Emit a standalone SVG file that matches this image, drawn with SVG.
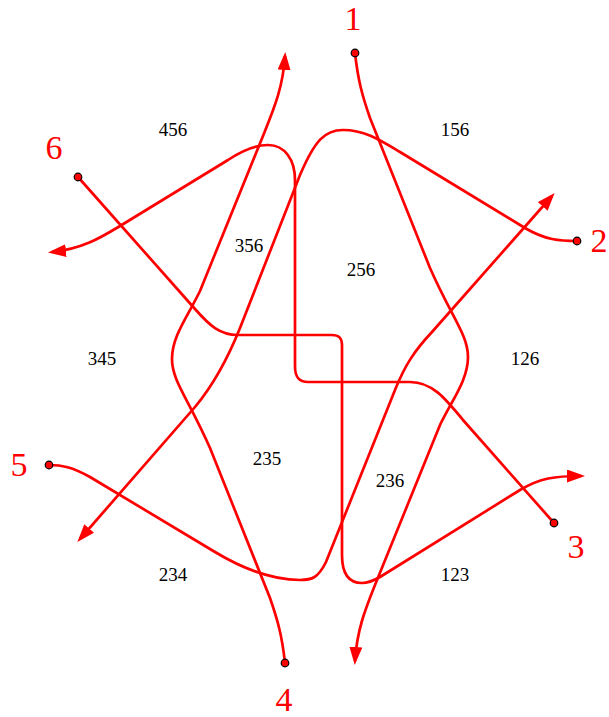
<svg xmlns="http://www.w3.org/2000/svg" width="609" height="717" viewBox="0 0 609 717">
<style>
.s{fill:none;stroke:#ff0000;stroke-width:2.7;stroke-linejoin:round;marker-end:url(#ah)}
.dot{fill:#ff0000;stroke:#000;stroke-width:1.2}
.lab{font-family:"Liberation Serif","DejaVu Serif",serif;font-size:19px;fill:#000;text-anchor:middle}
.num{font-family:"Liberation Serif","DejaVu Serif",serif;font-size:34px;fill:#ff0000;text-anchor:middle}
</style>
<defs>
<marker id="ah" markerUnits="userSpaceOnUse" markerWidth="20" markerHeight="14" refX="14" refY="6.5" orient="auto">
<path d="M0,0 L18,6.5 L0,13 Z" fill="#ff0000"/>
</marker>
</defs>
<g id="connectors">
<path id="strand1" class="s" d="M355,53 C358,80 362,95 370,118 L430,268 C452,318 468,335 468,357 C468,380 452,400 440,425 L375,585 C365,610 357,630 355,661"/>
<path id="strand4" class="s" d="M285,663 C282,636 278,621 270,598 L210,448 C188,398 172,381 172,359 C172,336 188,316 200,291 L265,131 C275,106 283,86 285,56"/>
<path id="strand2" class="s" d="M577,241 C560,241 545,240 525,228 L400,152 C380,140 365,130 343,130 C325,130 315,140 300,175 L240,328 C228,358 215,383 195,407 L80,539"/>
<path id="strand3" class="s" d="M554,523 L463,420 C445,398 432,382 410,382 L308,382 C298,382 295,376 295,366 L295,180 C295,160 285,145 268,145 C255,145 240,152 228,160 L120,226 C100,238 82,249 52,252"/>
<path id="strand5" class="s" d="M49,465 C62,465 72,467 90,477 L215,552 C240,567 270,580 300,580 C312,580 318,578 326,562 L395,390 C405,365 415,350 432,332 L552,196"/>
<path id="strand6" class="s" d="M78,177 L195,309 C210,326 220,335 238,335 L332,335 C339,335 342,338 342,345 L342,555 C342,575 350,583 362,583 C368,583 373,581 380,577 L520,490 C540,478 555,476 581,476"/>
</g>
<g id="node1"><circle class="dot" cx="355" cy="53" r="3.8"/><text class="num" x="353" y="30">1</text></g>
<g id="node2"><circle class="dot" cx="577" cy="241" r="3.8"/><text class="num" x="599" y="252">2</text></g>
<g id="node3"><circle class="dot" cx="554" cy="523" r="3.8"/><text class="num" x="576" y="558">3</text></g>
<g id="node4"><circle class="dot" cx="285" cy="663" r="3.8"/><text class="num" x="284" y="711">4</text></g>
<g id="node5"><circle class="dot" cx="49" cy="465" r="3.8"/><text class="num" x="19" y="476">5</text></g>
<g id="node6"><circle class="dot" cx="78" cy="177" r="3.8"/><text class="num" x="54" y="159">6</text></g>
<g id="regions">
<text class="lab" x="173" y="136">456</text>
<text class="lab" x="455" y="136">156</text>
<text class="lab" x="249" y="252">356</text>
<text class="lab" x="361" y="276">256</text>
<text class="lab" x="102" y="365">345</text>
<text class="lab" x="525" y="365">126</text>
<text class="lab" x="267" y="465">235</text>
<text class="lab" x="390" y="487">236</text>
<text class="lab" x="173" y="581">234</text>
<text class="lab" x="455" y="581">123</text>
</g>
</svg>
